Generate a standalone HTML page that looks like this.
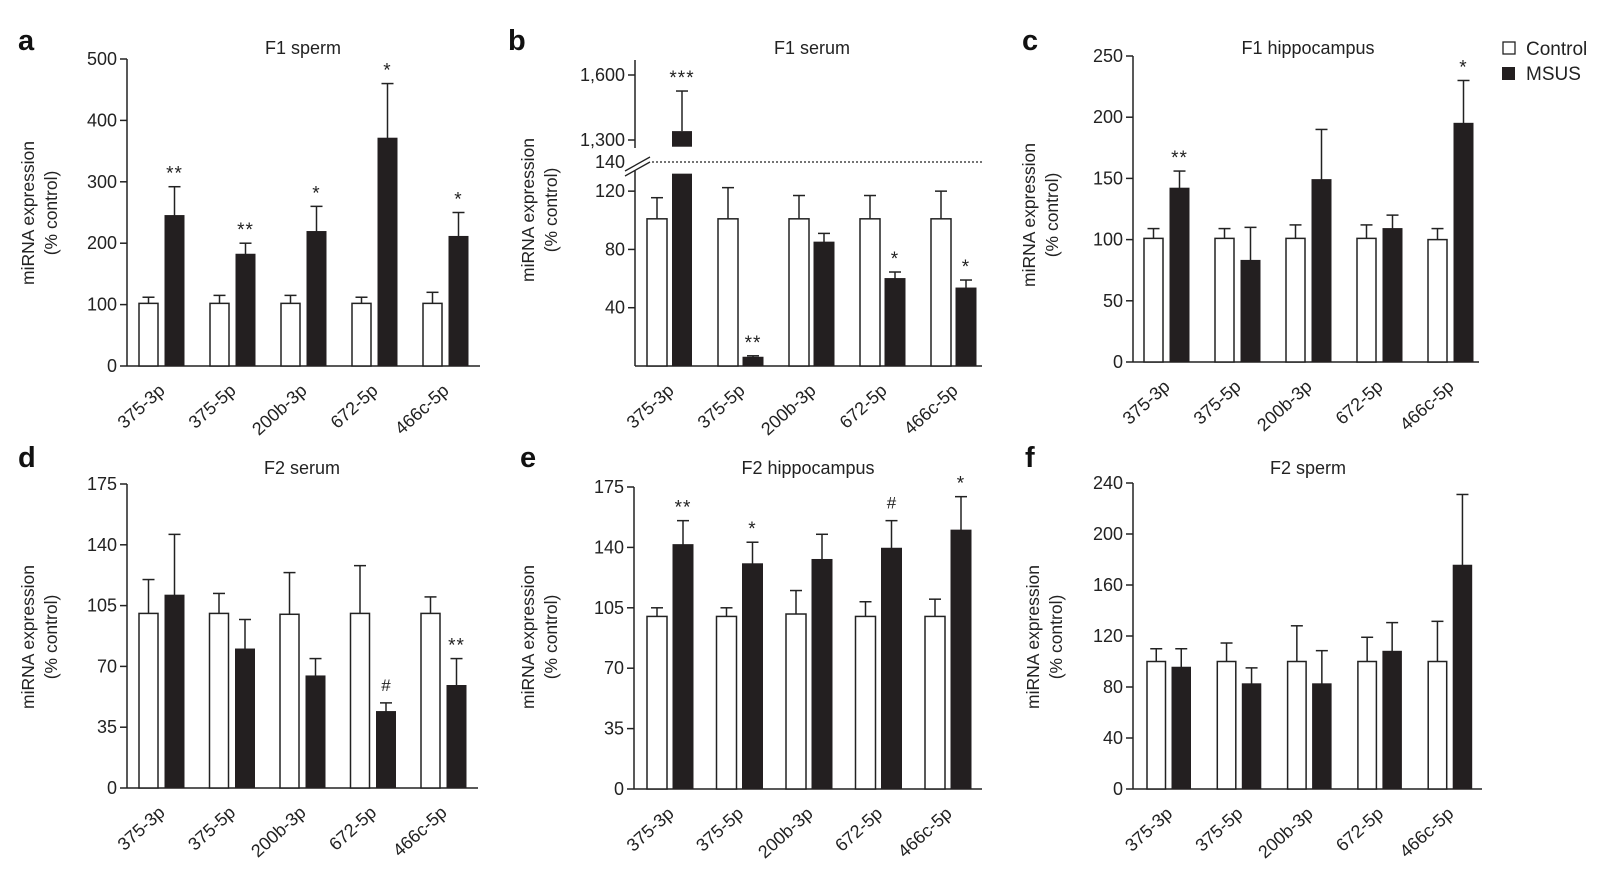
<!DOCTYPE html>
<html><head><meta charset="utf-8"><style>
html,body{margin:0;padding:0;background:#fff;}
svg{display:block;font-family:"Liberation Sans",Arial,sans-serif;}
</style></head><body>
<svg id="fig" width="1600" height="871" viewBox="0 0 1600 871" xmlns="http://www.w3.org/2000/svg"></svg>
<script>
const cats = ["375-3p","375-5p","200b-3p","672-5p","466c-5p"];
// panel a: F1 sperm
const aCtrl=[102,102,102,102,102], aCtrlErr=[112,115,115,112,120];
const aMsus=[245,182,219,371,211], aMsusErr=[292,200,260,460,250];
const aSig=["**","**","*","*","*"];
const aTicks=[0,100,200,300,400,500];
// panel b: F1 serum
const bCtrl=[101,101,101,101,101], bCtrlErr=[115.5,122.4,117,117,120];
const bMsus=[1341,6,85,60,53.5], bMsusErr=[1526,7,91,64.5,59];
const bSig=["***","**","","*","*"];
const bTicksLow=[40,80,120,140], bTicksHigh=[1300,1600];
const bTickLabelsLow=["40","80","120","140"], bTickLabelsHigh=["1,300","1,600"];
// panel c: F1 hippocampus
const cCtrl=[101,101,101,101,100], cCtrlErr=[109,109,112,112,109];
const cMsus=[142,83,149,109,195], cMsusErr=[156,110,190,120,230];
const cSig=["**","","","","*"];
const cTicks=[0,50,100,150,200,250];
// panel d: F2 serum
const dCtrl=[100.5,100.5,100,100.5,100.5], dCtrlErr=[120,112,124,128,110];
const dMsus=[111,80,64.5,44,59], dMsusErr=[146,97,74.5,49,74.5];
const dSig=["","","","#","**"];
const dTicks=[0,35,70,105,140,175];
// panel e: F2 hippocampus
const eCtrl=[100,100,101.4,100,100], eCtrlErr=[105,105,115,108.5,110];
const eMsus=[141.6,130.5,133,139.5,150], eMsusErr=[155.5,143,147.6,155.5,169.4];
const eSig=["**","*","","#","*"];
const eTicks=[0,35,70,105,140,175];
// panel f: F2 sperm
const fCtrl=[100,100,100,100,100], fCtrlErr=[110,114.5,128,119,131.5];
const fMsus=[95.5,82.5,82.5,108,175.5], fMsusErr=[110,95,108.5,130.5,231];
const fSig=["","","","",""];
const fTicks=[0,40,80,120,160,200,240];

const NS="http://www.w3.org/2000/svg";
const svg=document.getElementById('fig');
function mk(tag,attrs,parent,text){const e=document.createElementNS(NS,tag);for(const k in attrs)e.setAttribute(k,attrs[k]);if(text!==undefined)e.textContent=text;(parent||svg).appendChild(e);return e;}

function panel(o){
  const g=mk('g',{});
  
  
  const L=mk('text',{x:o.lx,y:o.ly,'font-size':29,'font-weight':'bold',fill:'#111'},g,o.id);
  
  
  const T=mk('text',{x:o.tx,y:o.ty,'font-size':18,'text-anchor':'middle',fill:'#222'},g,o.title);
  
  
  const yt=mk('text',{transform:`translate(${o.ytx},${o.yty}) rotate(-90)`,'font-size':17.5,'text-anchor':'middle',fill:'#222'},g);
  
  
  mk('tspan',{x:0,dy:0},yt,'miRNA expression');
  mk('tspan',{x:0,dy:23},yt,'(% control)');
  const y=o.y;
  if(!o.broken){
    const ax=mk('line',{x1:o.ax,y1:y(o.ticks[o.ticks.length-1]),x2:o.ax,y2:o.y0,stroke:'#222','stroke-width':1.5},g);
    
    
    o.ticks.forEach(t=>{
      mk('line',{x1:o.ax-7,y1:y(t),x2:o.ax,y2:y(t),stroke:'#222','stroke-width':1.5},g);
      const tl=mk('text',{x:o.ax-10,y:y(t)+6,'font-size':18,'text-anchor':'end',fill:'#222'},g,String(t));
      
      
    });
  } else {
    const ax1=mk('line',{x1:o.ax,y1:60,x2:o.ax,y2:148,stroke:'#222','stroke-width':1.5},g);
    
    
    const ax2=mk('line',{x1:o.ax,y1:170,x2:o.ax,y2:o.y0,stroke:'#222','stroke-width':1.5},g);
    
    
    mk('line',{x1:625,y1:171,x2:650,y2:157,stroke:'#222','stroke-width':1.3},g);
    mk('line',{x1:625,y1:176,x2:650,y2:162,stroke:'#222','stroke-width':1.3},g);
    bTicksHigh.forEach((t,i)=>{
      mk('line',{x1:o.ax-7,y1:y(t),x2:o.ax,y2:y(t),stroke:'#222','stroke-width':1.5},g);
      const tl=mk('text',{x:o.ax-10,y:y(t)+6,'font-size':18,'text-anchor':'end',fill:'#222'},g,bTickLabelsHigh[i]);
      
      
    });
    bTicksLow.forEach((t,i)=>{
      if(t!==140) mk('line',{x1:o.ax-7,y1:y(t),x2:o.ax,y2:y(t),stroke:'#222','stroke-width':1.5},g);
      const tl=mk('text',{x:o.ax-10,y:y(t)+6,'font-size':18,'text-anchor':'end',fill:'#222'},g,bTickLabelsLow[i]);
      
      
    });
    const dl=mk('line',{x1:652,y1:y(140),x2:o.xe,y2:y(140),stroke:'#222','stroke-width':1.3,'stroke-dasharray':'2,2'},g);
    
    
  }
  const xa=mk('line',{x1:o.ax,y1:o.y0,x2:o.xe,y2:o.y0,stroke:'#222','stroke-width':1.5},g);
  
  
  cats.forEach((c,i)=>{
    const x0=o.g0+i*o.pitch, x1=x0+o.off;
    const cb=mk('rect',{x:x0,y:y(o.ctrl[i]),width:o.w,height:o.y0-y(o.ctrl[i]),fill:'#fff',stroke:'#222','stroke-width':1.5},g);
    
    
    mk('line',{x1:x0+o.w/2,y1:y(o.ctrl[i]),x2:x0+o.w/2,y2:y(o.ctrlErr[i]),stroke:'#222','stroke-width':1.5},g);
    mk('line',{x1:x0+o.w/2-6,y1:y(o.ctrlErr[i]),x2:x0+o.w/2+6,y2:y(o.ctrlErr[i]),stroke:'#222','stroke-width':1.5},g);
    const v=o.msus[i];
    if(o.broken && v>o.lowMax){
      const lb=mk('rect',{x:x1,y:y(o.lowMax),width:o.w,height:o.y0-y(o.lowMax),fill:'#231f20'},g);
      
      
      const ub=mk('rect',{x:x1,y:y(v),width:o.w,height:y(o.highMin)-y(v),fill:'#231f20'},g);
      
      
    } else {
      const mb=mk('rect',{x:x1,y:y(v),width:o.w,height:o.y0-y(v),fill:'#231f20',stroke:'#231f20','stroke-width':1},g);
      
      
    }
    mk('line',{x1:x1+o.w/2,y1:y(v),x2:x1+o.w/2,y2:y(o.msusErr[i]),stroke:'#222','stroke-width':1.5},g);
    mk('line',{x1:x1+o.w/2-6,y1:y(o.msusErr[i]),x2:x1+o.w/2+6,y2:y(o.msusErr[i]),stroke:'#222','stroke-width':1.5},g);
    const s=o.sig[i];
    if(s){
      const off=s==='#'?12:7;
      const st=mk('text',{x:x1+o.w/2,y:y(o.msusErr[i])-off,'font-size':s==='#'?17:19,'text-anchor':'middle',fill:'#222','letter-spacing':s==='#'?0:1},g,s);
      
      
    }
    const xl=mk('text',{transform:`translate(${x0+o.w+8},${o.y0+26}) rotate(-42)`,'font-size':18,'text-anchor':'end',fill:'#222'},g,c);
    
    
  });
}
function lin(y0,yTop,vmax){return v=>y0-(v/vmax)*(y0-yTop);}

panel({id:'a',title:'F1 sperm',lx:18,ly:50,tx:303,ty:54,ytx:34,yty:213,ax:127,y0:366,xe:480,
  y:lin(366,59,500),ticks:aTicks,g0:139,pitch:71,off:26,w:19,ctrl:aCtrl,ctrlErr:aCtrlErr,msus:aMsus,msusErr:aMsusErr,sig:aSig});
const bY=v=> v>=1000 ? 140-(v-1300)*65/300 : 366-v*204/140;
panel({id:'b',title:'F1 serum',lx:508,ly:50,tx:812,ty:54,ytx:534,yty:210,ax:635,y0:366,xe:982,broken:true,lowMax:132,highMin:1269,
  y:bY,g0:647,pitch:71,off:25,w:20,ctrl:bCtrl,ctrlErr:bCtrlErr,msus:bMsus,msusErr:bMsusErr,sig:bSig});
panel({id:'c',title:'F1 hippocampus',lx:1022,ly:50,tx:1308,ty:54,ytx:1035,yty:215,ax:1133,y0:362,xe:1479,
  y:lin(362,56,250),ticks:cTicks,g0:1144,pitch:71,off:26,w:19,ctrl:cCtrl,ctrlErr:cCtrlErr,msus:cMsus,msusErr:cMsusErr,sig:cSig});
panel({id:'d',title:'F2 serum',lx:18,ly:467,tx:302,ty:474,ytx:34,yty:637,ax:127,y0:788,xe:478,
  y:lin(788,484,175),ticks:dTicks,g0:139,pitch:70.5,off:26,w:19,ctrl:dCtrl,ctrlErr:dCtrlErr,msus:dMsus,msusErr:dMsusErr,sig:dSig});
panel({id:'e',title:'F2 hippocampus',lx:520,ly:467,tx:808,ty:474,ytx:534,yty:637,ax:634,y0:789,xe:982,
  y:lin(789,487,175),ticks:eTicks,g0:647,pitch:69.5,off:26,w:20,ctrl:eCtrl,ctrlErr:eCtrlErr,msus:eMsus,msusErr:eMsusErr,sig:eSig});
panel({id:'f',title:'F2 sperm',lx:1025,ly:467,tx:1308,ty:474,ytx:1039,yty:637,ax:1133,y0:789,xe:1482,
  y:lin(789,483,240),ticks:fTicks,g0:1147,pitch:70.3,off:25,w:18.5,ctrl:fCtrl,ctrlErr:fCtrlErr,msus:fMsus,msusErr:fMsusErr,sig:fSig});

const lg=mk('g',{});


const l1=mk('g',{},lg);


mk('rect',{x:1503,y:42,width:12,height:12,fill:'#fff',stroke:'#222','stroke-width':1.3},l1);
mk('text',{x:1526,y:55,'font-size':19,fill:'#222'},l1,'Control');
const l2=mk('g',{},lg);


mk('rect',{x:1502,y:67,width:13,height:13,fill:'#231f20'},l2);
mk('text',{x:1526,y:80,'font-size':19,fill:'#222'},l2,'MSUS');
</script>
</body></html>
